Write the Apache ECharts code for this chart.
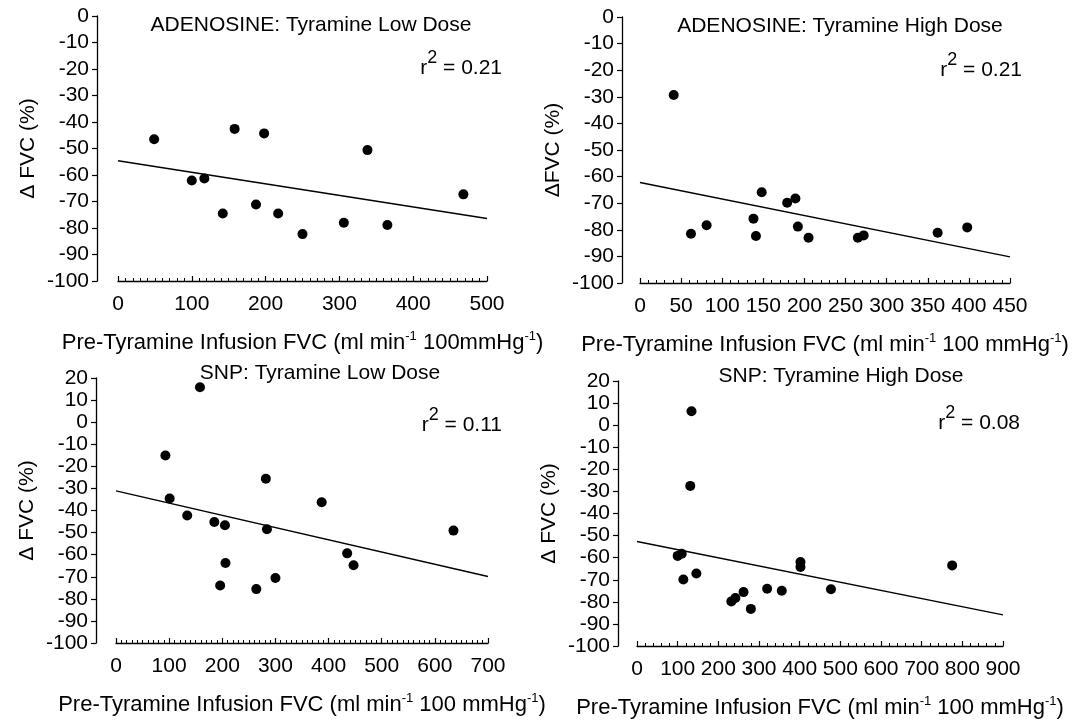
<!DOCTYPE html>
<html lang="en">
<head>
	<meta charset="UTF-8">
	<title>FVC vs Pre-Tyramine Infusion FVC</title>
	<script src="https://cdn.jsdelivr.net/npm/echarts@6/dist/echarts.min.js"></script>
	<style>
		html, body { margin: 0; padding: 0; background: #fff; }
		#chart { width: 1075px; height: 723px; }
	</style>
</head>
<body>
	<div id="chart"></div>
	<script>
		// ---- data ----
		// ADENOSINE, tyramine low dose
		var adoLowX = [49, 100, 117, 142, 158, 198, 187, 217, 250, 306, 338, 365, 468];
		var adoLowY = [-46.5, -62.1, -61.3, -74.5, -42.6, -44.3, -71.1, -74.5, -82.3, -78, -50.6, -78.9, -67.3];
		var adoLowFit = [[0, -54.6], [500, -76.4]];

		// ADENOSINE, tyramine high dose
		var adoHighX = [41, 62, 81, 138, 141, 148, 179, 189, 192, 205, 265, 272, 362, 398];
		var adoHighY = [-29.3, -81.5, -78.3, -75.8, -82.3, -65.9, -69.8, -68.2, -78.8, -83, -83, -82.1, -81.1, -79.1];
		var adoHighFit = [[0, -62.2], [450, -90.2]];

		// SNP, tyramine low dose
		var snpLowX = [158, 93, 101, 134, 185, 205, 206, 196, 264, 282, 284, 300, 387, 435, 447, 635];
		var snpLowY = [15.8, -15.1, -34.6, -42.3, -45.2, -46.7, -63.8, -74.0, -75.6, -25.6, -48.5, -70.6, -36.3, -59.4, -64.8, -49.1];
		var snpLowFit = [[0, -31.1], [700, -69.9]];

		// SNP, tyramine high dose
		var snpHighX = [100, 110, 114, 146, 232, 242, 262, 280, 320, 356, 402, 402, 477, 134, 131, 775];
		var snpHighY = [-59.2, -58.2, -69.9, -67.2, -79.8, -78.3, -75.6, -83.2, -74.1, -75, -62, -64.2, -74.3, 6.3, -27.5, -63.5];
		var snpHighFit = [[0, -52.7], [900, -85.9]];

		// axis ranges / ticks
		var titles = ['ADENOSINE: Tyramine Low Dose', 'ADENOSINE: Tyramine High Dose', 'SNP: Tyramine Low Dose', 'SNP: Tyramine High Dose'];
		var rSquared = ['0.21', '0.21', '0.11', '0.08'];
		var yNames = ['\u0394 FVC (%)', '\u0394FVC (%)', '\u0394 FVC (%)', '\u0394 FVC (%)'];
		var xUnits = ['100mmHg', '100 mmHg', '100 mmHg', '100 mmHg'];
		var xMax = [500, 450, 700, 900];
		var xStep = [100, 50, 100, 100];
		var xMinorSplit = [10, 5, 10, 5];
		var yMax = [0, 0, 20, 20];
		var yMin = -100;
		var yStep = 10;

		var panelX = [adoLowX, adoHighX, snpLowX, snpHighX];
		var panelY = [adoLowY, adoHighY, snpLowY, snpHighY];
		var panelFit = [adoLowFit, adoHighFit, snpLowFit, snpHighFit];

		// ---- layout (pixels) ----
		var boxes = [
			{ left: 118, top: 16, width: 369, height: 265, yOff: 21 },
			{ left: 640, top: 17, width: 370, height: 266, yOff: 18 },
			{ left: 116, top: 378, width: 372, height: 265, yOff: 20 },
			{ left: 637, top: 381, width: 366, height: 265, yOff: 19 }
		];
		var titlePos = [[311, 25], [840, 26], [320, 373], [841, 376]];
		var rPos = [[502, 64], [1022, 66], [502, 421], [1020, 419]];

		var ink = '#000';
		var font = '"Liberation Sans", Arial, Helvetica, sans-serif';

		var grid = [], xAxis = [], yAxis = [], series = [], graphic = [];

		for (var i = 0; i < 4; i++) {
			var b = boxes[i];
			grid.push({ left: b.left, top: b.top, width: b.width, height: b.height });

			xAxis.push({
				type: 'value', gridIndex: i,
				min: 0, max: xMax[i], interval: xStep[i],
				name: '{n|Pre-Tyramine Infusion FVC (ml min}{s|-1}{n| ' + xUnits[i] + '}{s|-1}{n|)}',
				nameLocation: 'middle', nameGap: 49,
				nameTextStyle: {
					rich: {
						n: { fontSize: 22, fontFamily: font, color: ink, lineHeight: 26 },
						s: { fontSize: 13, fontFamily: font, color: ink, lineHeight: 26, verticalAlign: 'top' }
					}
				},
				axisLine: { onZero: false, lineStyle: { color: ink, width: 1.3 } },
				axisTick: { inside: true, length: 5, lineStyle: { color: ink, width: 1.2 } },
				minorTick: { show: true, splitNumber: xMinorSplit[i], length: 3, lineStyle: { color: ink, width: 1 } },
				axisLabel: { color: ink, fontSize: 21, fontFamily: font, margin: 13, showMinLabel: true, showMaxLabel: true },
				splitLine: { show: false }
			});

			yAxis.push({
				type: 'value', gridIndex: i,
				min: yMin, max: yMax[i], interval: yStep,
				offset: b.yOff,
				name: yNames[i],
				nameLocation: 'middle', nameGap: 58, nameRotate: 90,
				nameTextStyle: { fontSize: 21, fontFamily: font, color: ink },
				axisLine: { show: true, onZero: false, lineStyle: { color: ink, width: 1.3 } },
				axisTick: { show: true, length: 5, lineStyle: { color: ink, width: 1.2 } },
				axisLabel: { color: ink, fontSize: 21, fontFamily: font, margin: 8, showMinLabel: true, showMaxLabel: true },
				splitLine: { show: false }
			});

			var pts = panelX[i].map(function (x, k) { return [x, panelY[i][k]]; });
			series.push({
				type: 'scatter', xAxisIndex: i, yAxisIndex: i,
				data: pts, symbolSize: 10,
				itemStyle: { color: ink, opacity: 1 }
			});
			series.push({
				type: 'line', xAxisIndex: i, yAxisIndex: i,
				data: panelFit[i], symbol: 'none',
				lineStyle: { color: ink, width: 1.4 }
			});

			graphic.push({
				type: 'text', x: titlePos[i][0], y: titlePos[i][1],
				style: { text: titles[i], fontSize: 21, fontFamily: font, fill: ink, align: 'center', verticalAlign: 'middle' }
			});
			graphic.push({
				type: 'text', x: rPos[i][0], y: rPos[i][1],
				style: {
					text: '{a|r}{b|2}{a| = ' + rSquared[i] + '}',
					align: 'right', verticalAlign: 'middle',
					rich: {
						a: { fontSize: 21, fontFamily: font, fill: ink, lineHeight: 30, verticalAlign: 'bottom' },
						b: { fontSize: 18, fontFamily: font, fill: ink, lineHeight: 30, verticalAlign: 'top' }
					}
				}
			});
		}

		var myChart = echarts.init(document.getElementById('chart'));
		myChart.setOption({
			backgroundColor: '#fff',
			animation: false,
			grid: grid,
			xAxis: xAxis,
			yAxis: yAxis,
			series: series,
			graphic: graphic
		});
	</script>
</body>
</html>
